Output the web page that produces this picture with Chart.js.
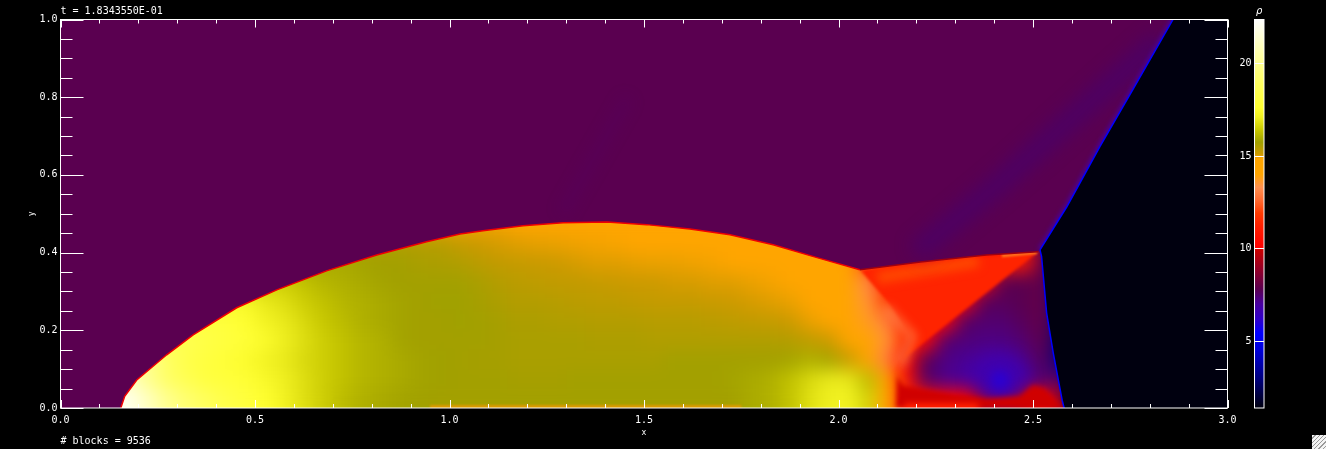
<!DOCTYPE html>
<html>
<head>
<meta charset="utf-8">
<script src="https://cdn.jsdelivr.net/npm/chart.js@4/dist/chart.umd.js"></script>
<style>
html, body { margin: 0; padding: 0; background: #000; overflow: hidden; }
#plot { position: absolute; left: 0; top: 0; }
#bar { position: absolute; left: 1228px; top: 0; }
#grip { position: absolute; left: 1312px; top: 435px; width: 14px; height: 14px; background: repeating-linear-gradient(135deg, #f4f4f4 0 2px, #9a9a9a 2px 3px); }
</style>
</head>
<body>
<canvas id="plot" width="1326" height="449"></canvas>
<canvas id="bar" width="60" height="449"></canvas>
<div id="grip"></div>
<script>
// labels
var timeLabel = "t = 1.8343550E-01";
var blocksLabel = "# blocks = 9536";
var barLabel = "\u03C1";

// axis ticks
var xMajor = [0, 0.5, 1, 1.5, 2, 2.5, 3];
var xMinor = [0.1, 0.2, 0.3, 0.4, 0.6, 0.7, 0.8, 0.9, 1.1, 1.2, 1.3, 1.4, 1.6, 1.7, 1.8, 1.9, 2.1, 2.2, 2.3, 2.4, 2.6, 2.7, 2.8, 2.9];
var yMajor = [0, 0.2, 0.4, 0.6, 0.8, 1];
var yMinor = [0.05, 0.1, 0.15, 0.25, 0.3, 0.35, 0.45, 0.5, 0.55, 0.65, 0.7, 0.75, 0.85, 0.9, 0.95];
var barTicks = [5, 10, 15, 20];
var rhoMin = 1.38;
var rhoMax = 22.37;

// colour table
var cmapLevels = [1.38, 3, 4.5, 5.4, 6.2, 7, 7.8, 8.8, 9.9, 10.05, 11.25, 11.9, 12.6, 13.3, 14, 14.85, 15.1, 15.74, 16.4, 17.1, 17.6, 18.9, 20, 21.5, 22.37];
var cmapColors = ["#00000f", "#000080", "#0000d8", "#0000ff", "#3000c8", "#4800a0", "#5a0050", "#90002a", "#c80000", "#ff0000", "#ff2000", "#ff3a00", "#ff6a30", "#ff9050", "#ffa500", "#ffa500", "#cc9a00", "#a0a000", "#c8c800", "#f0f020", "#ffff30", "#ffff60", "#ffff90", "#ffffd8", "#ffffff"];

// density, columns at x = 0.125, 0.175 ... 2.625
var rhoColumns = [0.125, 0.175, 0.225, 0.275, 0.325, 0.375, 0.425, 0.475, 0.525, 0.575, 0.625, 0.675, 0.725, 0.775, 0.825, 0.875, 0.925, 0.975, 1.025, 1.075, 1.125, 1.175, 1.225, 1.275, 1.325, 1.375, 1.425, 1.475, 1.525, 1.575, 1.625, 1.675, 1.725, 1.775, 1.825, 1.875, 1.925, 1.975, 2.025, 2.075, 2.125, 2.175, 2.225, 2.275, 2.325, 2.375, 2.425, 2.475, 2.525, 2.575, 2.625];
var rhoRow025 = [22, 22, 21, 20, 19.3, 18.8, 18.3, 18, 17.6, 17.2, 16.8, 16.5, 16.2, 16, 15.9, 15.8, 15.75, 15.7, 15.7, 15.7, 15.7, 15.7, 15.7, 15.7, 15.7, 15.7, 15.7, 15.7, 15.7, 15.7, 15.7, 15.7, 15.7, 15.9, 16, 16.3, 16.8, 17.1, 17.2, 16.6, 14.4, 11.5, 10.6, 10.3, 10.2, 9.8, 9.6, 9.8, 10.3, 9, 2];
var rhoRow075 = [21, 21, 20, 19, 18.5, 18, 17.9, 17.7, 17.4, 17.1, 16.8, 16.5, 16.3, 16.1, 16, 15.9, 15.8, 15.75, 15.7, 15.7, 15.7, 15.65, 15.65, 15.65, 15.7, 15.7, 15.7, 15.7, 15.7, 15.7, 15.7, 15.7, 15.8, 15.9, 16, 16.3, 16.7, 17, 17, 16.2, 14.2, 10.5, 7.6, 7.2, 7, 6.7, 6.4, 6.9, 7.5, 7.5, 2];
var rhoRow125 = [20, 20, 20, 19, 18.3, 18, 17.8, 17.5, 17.2, 17, 16.7, 16.5, 16.3, 16.1, 16, 15.9, 15.8, 15.75, 15.7, 15.65, 15.65, 15.6, 15.6, 15.6, 15.6, 15.6, 15.6, 15.6, 15.6, 15.7, 15.7, 15.7, 15.7, 15.7, 15.7, 15.8, 16, 15.8, 15.2, 14.6, 13, 10.5, 7.7, 7.3, 7.1, 7, 7, 7.2, 7.7, 3, 2];
var rhoRow175 = [18.5, 18.5, 18.5, 18.5, 18.5, 18.2, 18, 17.8, 17.5, 17.1, 16.8, 16.5, 16.3, 16.1, 16, 15.8, 15.7, 15.7, 15.7, 15.7, 15.65, 15.6, 15.6, 15.6, 15.6, 15.55, 15.55, 15.55, 15.5, 15.5, 15.5, 15.5, 15.5, 15.5, 15.5, 15.45, 15.3, 15.1, 14.85, 14, 13.5, 11.5, 10.3, 7.5, 7.4, 7.3, 7.3, 7.5, 7.9, 3, 2];
var rhoRow225 = [18, 18, 18, 18, 18, 18, 17.9, 17.6, 17.2, 17, 16.7, 16.4, 16.2, 16, 15.9, 15.8, 15.7, 15.7, 15.75, 15.7, 15.65, 15.55, 15.55, 15.5, 15.5, 15.45, 15.45, 15.45, 15.4, 15.4, 15.4, 15.35, 15.3, 15.25, 15.2, 15.1, 14.95, 14.8, 14.5, 13.7, 13, 11, 10.5, 10.3, 7.6, 7.5, 7.5, 7.7, 8, 3, 2];
var rhoRow275 = [17.4, 17.4, 17.4, 17.4, 17.4, 17.4, 17.4, 17.4, 17, 16.8, 16.5, 16.3, 16.1, 16, 15.9, 15.8, 15.7, 15.75, 15.75, 15.65, 15.55, 15.45, 15.45, 15.4, 15.35, 15.3, 15.3, 15.25, 15.2, 15.2, 15.2, 15.15, 15.1, 15.05, 15, 14.95, 14.85, 14.7, 14.4, 13.5, 12, 10.8, 10.5, 10.4, 10.3, 7.7, 7.7, 7.8, 8, 3, 2];
var rhoRow325 = [16.5, 16.5, 16.5, 16.5, 16.5, 16.5, 16.5, 16.5, 16.5, 16.5, 16.3, 16.1, 16, 15.9, 15.8, 15.7, 15.7, 15.7, 15.7, 15.6, 15.45, 15.35, 15.3, 15.25, 15.25, 15.2, 15.15, 15.1, 15.1, 15.05, 15.05, 15, 15, 14.95, 14.9, 14.85, 14.8, 14.6, 14.4, 13.2, 11.5, 10.8, 10.6, 10.5, 10.5, 10.4, 7.8, 7.8, 8, 3, 2];
var rhoRow375 = [15.9, 15.9, 15.9, 15.9, 15.9, 15.9, 15.9, 15.9, 15.9, 15.9, 15.9, 15.9, 15.9, 15.8, 15.7, 15.7, 15.6, 15.55, 15.5, 15.35, 15.25, 15.2, 15.15, 15.1, 15.05, 15, 15, 14.97, 14.95, 14.95, 14.92, 14.9, 14.85, 14.8, 14.75, 14.7, 14.6, 14.5, 14.4, 12, 11, 11, 11, 11, 11, 11, 11, 11, 8, 3, 2];
var rhoRow425 = [15.5, 15.5, 15.5, 15.5, 15.5, 15.5, 15.5, 15.5, 15.5, 15.5, 15.5, 15.5, 15.5, 15.5, 15.5, 15.5, 15.45, 15.4, 15.2, 15.1, 15.05, 15, 14.97, 14.95, 14.92, 14.9, 14.88, 14.85, 14.85, 14.8, 14.8, 14.8, 14.7, 14.7, 14.6, 14.6, 14.6, 14.5, 14.4, 12, 11, 11, 11, 11, 11, 11, 11, 11, 8, 3, 2];
var rhoRow475 = [14.6, 14.6, 14.6, 14.6, 14.6, 14.6, 14.6, 14.6, 14.6, 14.6, 14.6, 14.6, 14.6, 14.6, 14.6, 14.6, 14.6, 14.9, 14.9, 14.9, 14.9, 14.85, 14.8, 14.8, 14.7, 14.7, 14.7, 14.6, 14.6, 14.6, 14.6, 14.6, 14.6, 14.6, 14.6, 14.6, 14.6, 14.5, 14.3, 12, 11, 11, 11, 11, 11, 11, 11, 11, 8, 3, 2];
var rhoRows = [rhoRow025, rhoRow075, rhoRow125, rhoRow175, rhoRow225, rhoRow275, rhoRow325, rhoRow375, rhoRow425, rhoRow475];
var rowHeights = [0.025, 0.075, 0.125, 0.175, 0.225, 0.275, 0.325, 0.375, 0.425, 0.475];

// front outlines
var bowX = [0.155, 0.165, 0.196, 0.273, 0.341, 0.453, 0.556, 0.684, 0.813, 0.941, 1.027, 1.086, 1.189, 1.292, 1.405, 1.507, 1.618, 1.721, 1.832, 1.945, 2.055];
var bowY = [0, 0.03, 0.072, 0.137, 0.188, 0.258, 0.304, 0.353, 0.394, 0.428, 0.448, 0.456, 0.469, 0.477, 0.479, 0.472, 0.461, 0.446, 0.42, 0.387, 0.356];
var slipX = [2.055, 2.21, 2.38, 2.513];
var slipY = [0.356, 0.376, 0.394, 0.402];
var upperShockX = [2.518, 2.587, 2.672, 2.757, 2.86];
var upperShockY = [0.407, 0.518, 0.673, 0.82, 1];
var lowerShockX = [2.518, 2.522, 2.535, 2.552, 2.575, 2.58];
var lowerShockY = [0.407, 0.39, 0.245, 0.142, 0.02, 0];
var wedgeX = [2.055, 2.513, 2.4, 2.3, 2.2, 2.158, 2.147, 2.19, 2.13];
var wedgeY = [0.356, 0.402, 0.312, 0.233, 0.153, 0.12, 0.09, 0.183, 0.27];
var wedgeGlowX = [2.1, 2.25, 2.36];
var wedgeGlowY = [0.335, 0.36, 0.378];
var tipX = [2.42, 2.51];
var tipY = [0.392, 0.4];
var bandX = [2.152, 2.153, 2.167, 2.295, 2.38, 2.467, 2.5, 2.53, 2.55, 2.578, 2.148];
var bandY = [0.1, 0.08, 0.058, 0.034, 0.024, 0.03, 0.059, 0.05, 0.028, 0, 0];
var bandGlowX = [2.17, 2.36];
var bandGlowY = [0, 0];
var edgeX = [2.12, 2.19, 2.16];
var edgeY = [0.26, 0.185, 0.11];
var streakX = [2.2, 2.416, 2.827];
var streakY = [0.4, 0.58, 0.948];
var faintX = [1.29, 1.46];
var faintY = [0.5, 0.8];
var stripX = [0.95, 1.75];
var stripY = [0.003, 0.003];
var blobX = [2.415];
var blobY = [0.072];

function pts(xs, ys) {
    return xs.map(function (x, i) { return {x: x, y: ys[i]}; });
}

function hexRgb(h) {
    return [parseInt(h.substr(1, 2), 16), parseInt(h.substr(3, 2), 16), parseInt(h.substr(5, 2), 16)];
}

function rhoColor(v) {
    for (var i = 1; i < cmapLevels.length; i++) {
        if (v <= cmapLevels[i]) {
            var t = (v - cmapLevels[i - 1]) / (cmapLevels[i] - cmapLevels[i - 1]);
            var a = hexRgb(cmapColors[i - 1]), b = hexRgb(cmapColors[i]);
            return "rgb(" + Math.round(a[0] + (b[0] - a[0]) * t) + "," + Math.round(a[1] + (b[1] - a[1]) * t) + "," + Math.round(a[2] + (b[2] - a[2]) * t) + ")";
        }
    }
    return "#ffffff";
}

var cells = [];
rhoRows.forEach(function (row, r) {
    row.forEach(function (v, c) {
        cells.push({x: rhoColumns[c], y: rowHeights[r], v: v});
    });
});

function polygon(xs, ys, color, blur) {
    return {type: "scatter", showLine: true, data: pts(xs, ys), fill: "shape", backgroundColor: color, borderWidth: 0, pointRadius: 0, blur: blur || 0};
}

function stroke(xs, ys, color, width, blur) {
    return {type: "scatter", showLine: true, data: pts(xs, ys), fill: false, borderColor: color, borderWidth: width, pointRadius: 0, blur: blur || 0};
}

var skyX = bowX.concat(slipX, upperShockX, [0, 0]);
var skyY = bowY.concat(slipY, upperShockY, [1, 0]);
var darkX = upperShockX.concat([3, 3], lowerShockX.slice().reverse());
var darkY = upperShockY.concat([1, 0], lowerShockY.slice().reverse());

// bottom layer first, reversed below because Chart.js draws the first dataset last
var layers = [
    {type: "scatter", data: cells, smear: 9, pointStyle: "rect", pointBorderWidth: 0,
        pointRadius: function (ctx) {
            var s = ctx.chart.scales.x;
            return (s.getPixelForValue(0.05) - s.getPixelForValue(0)) / Math.SQRT2 + 0.5;
        },
        pointBackgroundColor: function (ctx) { return rhoColor(ctx.raw.v); }},
    {type: "scatter", data: pts(blobX, blobY), blur: 9, pointRadius: 24, pointBorderWidth: 0, pointBackgroundColor: "#4000b0"},
    {type: "scatter", data: pts(blobX, blobY), blur: 5, pointRadius: 9, pointBorderWidth: 0, pointBackgroundColor: "#2c00d0"},
    polygon(wedgeX, wedgeY, "#ff2400", 1.5),
    stroke(wedgeGlowX, wedgeGlowY, "#ff4800", 12, 5),
    stroke(tipX, tipY, "#ff7a20", 3, 1),
    polygon(bandX, bandY, "#d00000", 2.5),
    stroke(bandGlowX, bandGlowY, "#ff2000", 10, 3),
    stroke(edgeX, edgeY, "rgba(255,150,80,0.55)", 9, 5),
    stroke(stripX, stripY, "#e89a00", 3, 1),
    polygon(skyX, skyY, "#5a0050"),
    stroke(faintX, faintY, "rgba(72,0,120,0.12)", 14, 7),
    stroke(streakX, streakY, "rgba(50,0,140,0.32)", 22, 9),
    stroke(upperShockX, upperShockY, "#48009c", 5, 2),
    stroke(bowX, bowY, "#f00000", 1.5),
    stroke(slipX, slipY, "#a00010", 1.5),
    polygon(darkX, darkY, "#00000f"),
    stroke(upperShockX, upperShockY, "#0000ff", 1.5),
    stroke(lowerShockX, lowerShockY, "#0000ff", 1.5)
];
var datasets = layers.slice().reverse();

function blurOf(ds) {
    return ds && ds.blur ? "blur(" + ds.blur + "px)" : "none";
}

// smooth what has been drawn inside the plot area, with its bottom row carried on below the axis
function smearArea(chart, px) {
    var ctx = chart.ctx, a = chart.chartArea, m = 30;
    var tmp = document.createElement("canvas");
    tmp.width = a.width + 2 * m;
    tmp.height = a.height + 2 * m;
    var t = tmp.getContext("2d");
    t.drawImage(chart.canvas, a.left, a.top, a.width, a.height, m, m, a.width, a.height);
    t.drawImage(chart.canvas, a.left, a.bottom - 1, a.width, 1, m, m + a.height, a.width, m);
    ctx.save();
    ctx.beginPath();
    ctx.rect(a.left, a.top, a.width, a.height);
    ctx.clip();
    ctx.filter = "blur(" + px + "px)";
    ctx.drawImage(tmp, a.left - m, a.top - m);
    ctx.restore();
}

// datasets are drawn from the last index down: each blur is set right after the previous one
var blurLayers = {
    id: "blurLayers",
    beforeDatasetsDraw: function (chart) {
        var list = chart.data.datasets;
        chart.ctx.save();
        chart.ctx.filter = blurOf(list[list.length - 1]);
    },
    afterDatasetDraw: function (chart, args) {
        var list = chart.data.datasets;
        if (list[args.index].smear) smearArea(chart, list[args.index].smear);
        chart.ctx.filter = blurOf(list[args.index - 1]);
    },
    afterDatasetsDraw: function (chart) {
        chart.ctx.filter = "none";
        chart.ctx.restore();
    }
};

function hTick(ctx, a, b, y) {
    ctx.beginPath();
    ctx.moveTo(a, y);
    ctx.lineTo(b, y);
    ctx.stroke();
}

function vTick(ctx, x, a, b) {
    ctx.beginPath();
    ctx.moveTo(x, a);
    ctx.lineTo(x, b);
    ctx.stroke();
}

// inward ticks on all four sides
var frameTicks = {
    id: "frameTicks",
    afterDraw: function (chart) {
        var ctx = chart.ctx, area = chart.chartArea, sx = chart.scales.x, sy = chart.scales.y;
        ctx.save();
        ctx.strokeStyle = "#fff";
        ctx.lineWidth = 1;
        ctx.strokeRect(area.left, area.top, area.width, area.height);
        function xt(list, len) {
            list.forEach(function (v) {
                var p = Math.round(sx.getPixelForValue(v)) + 0.5;
                vTick(ctx, p, area.bottom, area.bottom - len);
                vTick(ctx, p, area.top, area.top + len);
            });
        }
        function yt(list, len) {
            list.forEach(function (v) {
                var p = Math.round(sy.getPixelForValue(v)) + 0.5;
                hTick(ctx, area.left, area.left + len, p);
                hTick(ctx, area.right, area.right - len, p);
            });
        }
        xt(xMajor, 8);
        xt(xMinor, 4);
        yt(yMajor, 23);
        yt(yMinor, 12);
        ctx.restore();
    }
};

var tickFont = {family: "'DejaVu Sans Mono'", size: 10, weight: "normal"};
var labelFont = {family: "'DejaVu Sans Mono'", size: 8, weight: "normal"};

new Chart(document.getElementById("plot"), {
    type: "scatter",
    data: {datasets: datasets},
    plugins: [blurLayers, frameTicks],
    options: {
        responsive: false,
        animation: false,
        events: [],
        layout: {autoPadding: false, padding: {right: 98.5}},
        plugins: {
            legend: {display: false},
            tooltip: {enabled: false},
            title: {display: true, text: timeLabel, align: "start", fullSize: false, color: "#fff", font: tickFont, padding: {top: 5, bottom: 2.5}},
            subtitle: {display: true, text: blocksLabel, align: "start", fullSize: false, position: "bottom", color: "#fff", font: tickFont, padding: {top: 1, bottom: 2}}
        },
        scales: {
            x: {
                type: "linear", min: 0, max: 3,
                grid: {display: false, drawTicks: false}, border: {display: false},
                afterFit: function (s) { s.height = 26; s.paddingLeft = 0; s.paddingRight = 0; },
                ticks: {stepSize: 0.5, color: "#fff", font: tickFont, padding: 6, maxRotation: 0, autoSkip: false,
                    callback: function (v) { return v.toFixed(1); }},
                title: {display: true, text: "x", color: "#fff", font: labelFont, padding: {top: 0, bottom: -3.8}}
            },
            y: {
                type: "linear", min: 0, max: 1,
                grid: {display: false, drawTicks: false}, border: {display: false},
                afterFit: function (s) { s.width = 60.5; s.paddingTop = 0; s.paddingBottom = 0; },
                ticks: {stepSize: 0.2, color: "#fff", font: tickFont, padding: 3, autoSkip: false,
                    callback: function (v) { return v.toFixed(1); }},
                title: {display: true, text: "y", color: "#fff", font: labelFont, padding: {top: 27, bottom: 0}}
            }
        }
    }
});

// colour bar
var barFrame = {
    id: "barFrame",
    afterDraw: function (chart) {
        var ctx = chart.ctx, area = chart.chartArea, sy = chart.scales.y;
        ctx.save();
        ctx.strokeStyle = "#fff";
        ctx.lineWidth = 1;
        ctx.strokeRect(area.left, area.top, area.width, area.height);
        barTicks.forEach(function (v) {
            hTick(ctx, area.left, area.right, Math.round(sy.getPixelForValue(v)) + 0.5);
        });
        ctx.restore();
    }
};

new Chart(document.getElementById("bar"), {
    type: "bar",
    data: {
        labels: [barLabel],
        datasets: [{
            data: [[rhoMin, rhoMax]],
            barPercentage: 1,
            categoryPercentage: 1,
            backgroundColor: function (ctx) {
                var a = ctx.chart.chartArea;
                if (!a) return "#000";
                var g = ctx.chart.ctx.createLinearGradient(0, a.bottom, 0, a.top);
                cmapLevels.forEach(function (v, i) {
                    g.addColorStop((v - rhoMin) / (rhoMax - rhoMin), cmapColors[i]);
                });
                return g;
            }
        }]
    },
    plugins: [barFrame],
    options: {
        responsive: false,
        animation: false,
        events: [],
        layout: {padding: {right: 24, bottom: 41}},
        plugins: {
            legend: {display: false},
            tooltip: {enabled: false},
            title: {display: true, text: barLabel, fullSize: false, color: "#fff", font: {family: "'DejaVu Sans'", size: 10, style: "italic", weight: "normal"}, padding: {top: 5, bottom: 2.5}}
        },
        scales: {
            x: {display: false},
            y: {
                min: rhoMin, max: rhoMax,
                grid: {display: false, drawTicks: false}, border: {display: false},
                afterFit: function (s) { s.width = 26.5; s.paddingTop = 0; s.paddingBottom = 0; },
                afterBuildTicks: function (s) { s.ticks = barTicks.map(function (v) { return {value: v}; }); },
                ticks: {color: "#fff", font: tickFont, padding: 3, autoSkip: false}
            }
        }
    }
});
</script>
</body>
</html>
